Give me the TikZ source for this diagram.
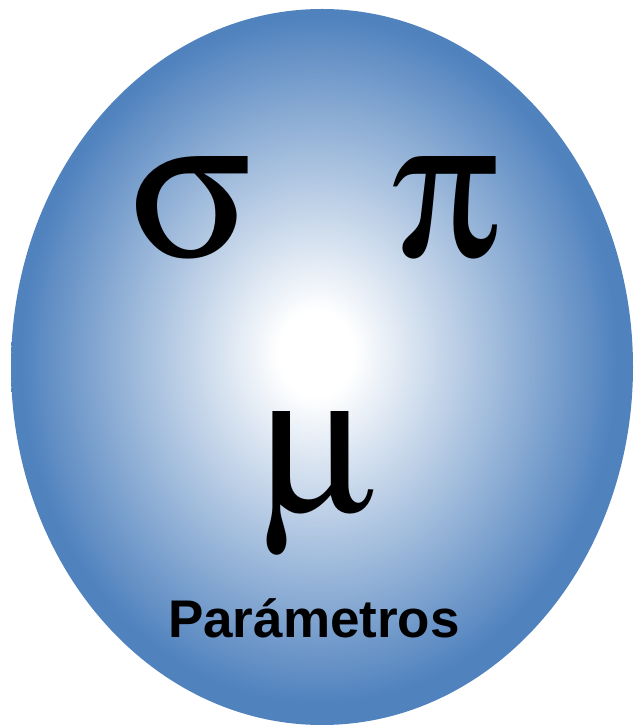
\documentclass[tikz,border=0pt]{standalone}
\usepackage{fontspec}
\usepackage[Symbol]{upgreek}
\setmainfont{Liberation Serif}
\newfontfamily\labelfont{Liberation Sans}
\usetikzlibrary{shapes.geometric}

\definecolor{parblue}{RGB}{80,130,190}
% degradado radial: blanco en el centro, azul en el borde
\pgfdeclareradialshading{parglow}{\pgfpoint{-0.5bp}{1bp}}{%
  color(0bp)=(white); color(3bp)=(white); color(24bp)=(parblue); color(25bp)=(parblue); color(50bp)=(parblue)}

\tikzset{
  greek/.style={anchor=base, inner sep=0pt, font=\fontsize{200}{200}\selectfont},
  title/.style={anchor=base, inner sep=0pt, font=\labelfont\bfseries\fontsize{53}{53}\selectfont}
}

\begin{document}
\begin{tikzpicture}[x=1pt, y=1pt]
\useasboundingbox (0,0) rectangle (635,726);

% elipse de fondo
\node[ellipse, minimum width=622pt, minimum height=716pt, inner sep=0pt,
      shading=parglow] (param) at (322,359) {};

% simbolos
\node[greek] (sigma) at (191,469) {$\upsigma$};
\node[greek] (pi) at (446,469) {$\uppi$};
\node[greek] (mu) at (318,214) {$\upmu$};

% etiqueta
\node[title] (label) at (314,88) {Parámetros};
\end{tikzpicture}
\end{document}
